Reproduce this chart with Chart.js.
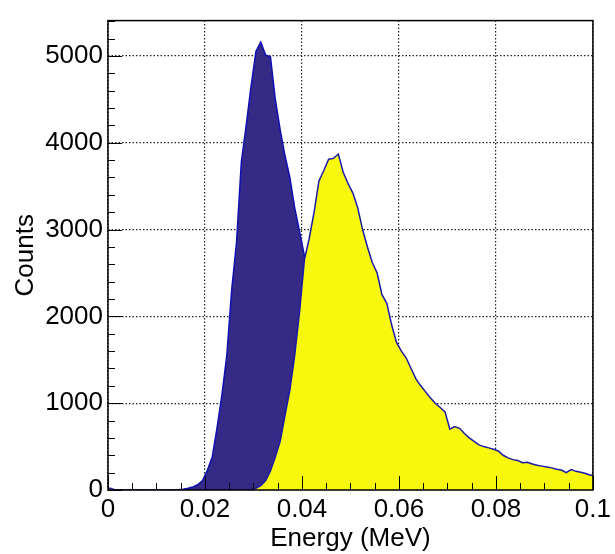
<!DOCTYPE html>
<html>
<head>
<meta charset="utf-8">
<script src="https://cdn.jsdelivr.net/npm/chart.js@4.4.0/dist/chart.umd.min.js"></script>
<style>
    html, body { margin: 0; padding: 0; background: #fff; }
</style>
</head>
<body>
<canvas id="myCanvas" width="615" height="554"></canvas>
<script>
// histogram binning: 100 bins from 0 to 0.1 MeV
const binWidth = 0.001;

// dark blue histogram (counts per bin)
const blueCounts = [
    0, 0, 0, 0, 0, 0, 0, 0, 0, 0,
    0, 0, 0, 0, 3, 8, 20, 35, 60, 110,
    230, 380, 720, 1100, 1550, 2300, 2850, 3780, 4200, 4650,
    5050, 5160, 5010, 4990, 4500, 4150, 3850, 3600, 3250, 2980,
    2700, 2500, 2200, 1900, 1500, 1150, 850, 600, 400, 250,
    150, 90, 50, 30, 15, 8, 0, 0, 0, 0,
    0, 0, 0, 0, 0, 0, 0, 0, 0, 0,
    0, 0, 0, 0, 0, 0, 0, 0, 0, 0,
    0, 0, 0, 0, 0, 0, 0, 0, 0, 0,
    0, 0, 0, 0, 0, 0, 0, 0, 0, 0
];

// yellow histogram (counts per bin)
const yellowCounts = [
    20, 0, 0, 0, 0, 0, 0, 0, 0, 0,
    0, 0, 0, 0, 0, 0, 0, 0, 0, 0,
    0, 0, 0, 0, 0, 0, 0, 0, 0, 5,
    20, 50, 110, 220, 380, 560, 860, 1150, 1550, 2050,
    2650, 2900, 3200, 3560, 3680, 3810, 3820, 3870, 3660, 3530,
    3420, 3250, 3000, 2800, 2620, 2500, 2250, 2150, 1900, 1700,
    1600, 1520, 1400, 1280, 1200, 1130, 1060, 1000, 950, 900,
    700, 730, 710, 650, 600, 560, 520, 500, 485, 470,
    450, 400, 370, 350, 340, 315, 320, 300, 285, 275,
    265, 255, 240, 230, 200, 235, 215, 205, 190, 170
];

const xTicks = [0, 0.02, 0.04, 0.06, 0.08, 0.1];
const xTickLabels = ["0", "0.02", "0.04", "0.06", "0.08", "0.1"];
const yTicks = [0, 1000, 2000, 3000, 4000, 5000];
const yTickLabels = ["0", "1000", "2000", "3000", "4000", "5000"];
const xMax = 0.1;
const yMax = 5407;

const fontFamily = "'Liberation Sans', Arial, sans-serif";

// puntos en el centro de cada bin, con extremos en 0 y 0.1
function toPoints(counts) {
    const pts = [{ x: 0, y: counts[0] }];
    counts.forEach((c, i) => pts.push({ x: (i + 0.5) * binWidth, y: c }));
    pts.push({ x: counts.length * binWidth, y: counts[counts.length - 1] });
    return pts;
}

// marco + ticks hacia dentro estilo ROOT
const frameTicks = {
    id: "frameTicks",
    afterDatasetsDraw(chart) {
        const { ctx, chartArea: a, scales } = chart;
        const x = scales.x, y = scales.y;
        ctx.save();
        ctx.strokeStyle = "#000";
        ctx.lineWidth = 1;
        for (let v = 0; v <= yMax; v += 200) {
            const py = Math.round(y.getPixelForValue(v)) + 0.5;
            const len = v % 1000 === 0 ? 14 : 7;
            ctx.beginPath();
            ctx.moveTo(a.left, py);
            ctx.lineTo(a.left + len, py);
            ctx.stroke();
        }
        for (let k = 0; k <= 20; k++) {
            const px = Math.round(x.getPixelForValue(k * 0.005)) + 0.5;
            const len = k % 4 === 0 ? 14 : 7;
            ctx.beginPath();
            ctx.moveTo(px, a.bottom);
            ctx.lineTo(px, a.bottom - len);
            ctx.stroke();
        }
        ctx.lineWidth = 1.5;
        ctx.strokeRect(a.left, a.top, a.right - a.left, a.bottom - a.top);
        ctx.restore();
    }
};

const ctx = document.getElementById("myCanvas").getContext("2d");

const chart = new Chart(ctx, {
    type: "line",
    data: {
        datasets: [
            {
                label: "yellow",
                data: toPoints(yellowCounts),
                fill: "origin",
                backgroundColor: "#f8f80c",
                borderColor: "#1a1aa8",
                borderWidth: 1.5,
                pointRadius: 0,
                tension: 0,
                order: 0,
            },
            {
                label: "blue",
                data: toPoints(blueCounts),
                fill: "origin",
                backgroundColor: "#352a85",
                borderColor: "#1010b4",
                borderWidth: 1.5,
                pointRadius: 0,
                tension: 0,
                order: 1,
            },
        ],
    },
    options: {
        responsive: false,
        animation: false,
        layout: { padding: { top: 15, right: 22, left: 0, bottom: 0 } },
        plugins: { legend: { display: false }, tooltip: { enabled: false } },
        scales: {
            x: {
                type: "linear",
                min: 0,
                max: xMax,
                afterBuildTicks: (s) => { s.ticks = xTicks.map((v) => ({ value: v })); },
                afterFit: (s) => { s.height = 64; },
                ticks: {
                    autoSkip: false,
                    maxRotation: 0,
                    padding: 4,
                    color: "#000",
                    font: { family: fontFamily, size: 26 },
                    callback: (v, i) => xTickLabels[i],
                },
                grid: { color: "#222", lineWidth: 1.2, drawTicks: false },
                border: { display: false, dash: [1.5, 2] },
                title: {
                    display: true,
                    text: "Energy (MeV)",
                    color: "#000",
                    font: { family: fontFamily, size: 26 },
                    padding: { top: 0, bottom: 0 },
                },
            },
            y: {
                type: "linear",
                min: 0,
                max: yMax,
                afterBuildTicks: (s) => { s.ticks = yTicks.map((v) => ({ value: v })); },
                afterFit: (s) => { s.width = 108; },
                ticks: {
                    padding: 5,
                    color: "#000",
                    font: { family: fontFamily, size: 26 },
                    callback: (v, i) => yTickLabels[i],
                },
                grid: { color: "#222", lineWidth: 1.2, drawTicks: false },
                border: { display: false, dash: [1.5, 2] },
                title: {
                    display: true,
                    text: "Counts",
                    color: "#000",
                    font: { family: fontFamily, size: 26 },
                    padding: { top: 10, bottom: 0 },
                },
            },
        },
    },
    plugins: [frameTicks],
});
</script>
</body>
</html>
